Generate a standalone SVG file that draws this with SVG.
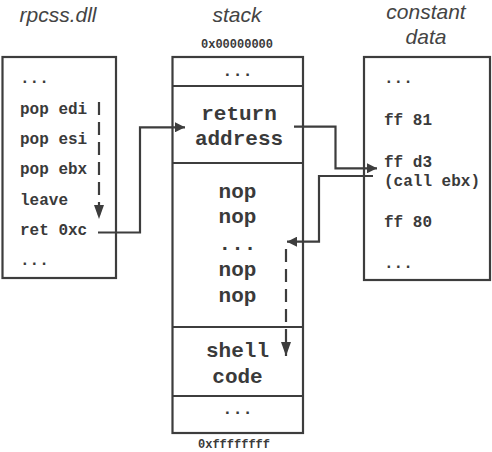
<svg xmlns="http://www.w3.org/2000/svg" width="492" height="452" viewBox="0 0 492 452">
<style>
.box{fill:#fff;stroke:#3d3d3d;stroke-width:2.2}
.div{stroke:#3d3d3d;stroke-width:2.2}
.t{font-family:"Liberation Sans",Arial,sans-serif;font-style:italic;font-size:21px;fill:#444;text-anchor:middle}
.m{font-family:"Liberation Mono","Courier New",monospace;font-weight:bold;fill:#3a3a3a}
.s{font-size:16px}
.b{font-size:21px;text-anchor:middle}
.d{font-size:17px;text-anchor:middle}
.a{font-size:12px;text-anchor:middle}
.ln{fill:none;stroke:#3d3d3d;stroke-width:2.2}
.dash{stroke-dasharray:13,7}
</style>
<defs>
<marker id="ah" viewBox="0 0 10 10" refX="10" refY="5" markerWidth="10" markerHeight="10" markerUnits="userSpaceOnUse" orient="auto">
<path d="M0,0 L10,5 L0,10 z" fill="#3d3d3d"/>
</marker>
<marker id="ahl" viewBox="0 0 14 10" refX="14" refY="5" markerWidth="14" markerHeight="10" markerUnits="userSpaceOnUse" orient="auto">
<path d="M0,0 L14,5 L0,10 z" fill="#3d3d3d"/>
</marker>
</defs>
<text class="t" x="58" y="22">rpcss.dll</text>
<text class="t" x="237" y="22">stack</text>
<text class="t" x="426" y="19">constant</text>
<text class="t" x="426" y="44">data</text>
<text class="m a" x="237" y="48">0x00000000</text>
<text class="m a" x="234" y="448">0xffffffff</text>

<g id="rpcss">
<rect class="box" x="2.5" y="57" width="113.5" height="221"/>
<text class="m s" x="20" y="83">...</text>
<text class="m s" x="20" y="114">pop edi</text>
<text class="m s" x="20" y="144">pop esi</text>
<text class="m s" x="20" y="174">pop ebx</text>
<text class="m s" x="20" y="205">leave</text>
<text class="m s" x="20" y="235">ret 0xc</text>
<text class="m s" x="20" y="265">...</text>
</g>

<g id="stack">
<rect class="box" x="172.5" y="57" width="130.5" height="376"/>
<line class="div" x1="172.5" y1="86" x2="303" y2="86"/>
<line class="div" x1="172.5" y1="163" x2="303" y2="163"/>
<line class="div" x1="172.5" y1="327" x2="303" y2="327"/>
<line class="div" x1="172.5" y1="396" x2="303" y2="396"/>
<text class="m d" x="237.5" y="76">...</text>
<text class="m b" x="239" y="120">return</text>
<text class="m b" x="239" y="145">address</text>
<text class="m b" x="237.5" y="198">nop</text>
<text class="m b" x="237.5" y="223">nop</text>
<text class="m b" x="237.5" y="250">...</text>
<text class="m b" x="237.5" y="276">nop</text>
<text class="m b" x="237.5" y="302">nop</text>
<text class="m b" x="237.5" y="357">shell</text>
<text class="m b" x="237.5" y="383">code</text>
<text class="m d" x="237.5" y="414">...</text>
</g>

<g id="constant">
<rect class="box" x="364" y="57" width="126" height="223"/>
<text class="m s" x="384" y="83">...</text>
<text class="m s" x="384" y="125">ff 81</text>
<text class="m s" x="384" y="167">ff d3</text>
<text class="m s" x="384" y="186">(call ebx)</text>
<text class="m s" x="384" y="227">ff 80</text>
<text class="m s" x="384" y="268">...</text>
</g>

<g id="connectors">
<line class="ln dash" x1="99" y1="102" x2="99" y2="219" marker-end="url(#ahl)"/>
<polyline class="ln" points="98,232.5 140,232.5 140,127.3 185,127.3" marker-end="url(#ah)"/>
<polyline class="ln" points="294,126.7 335.5,126.7 335.5,168.3 377,168.3" marker-end="url(#ah)"/>
<polyline class="ln" points="373,176 319,176 319,241.7 287,241.7" marker-end="url(#ah)"/>
<line class="ln dash" x1="286" y1="249" x2="286" y2="356" marker-end="url(#ahl)"/>
</g>
</svg>
